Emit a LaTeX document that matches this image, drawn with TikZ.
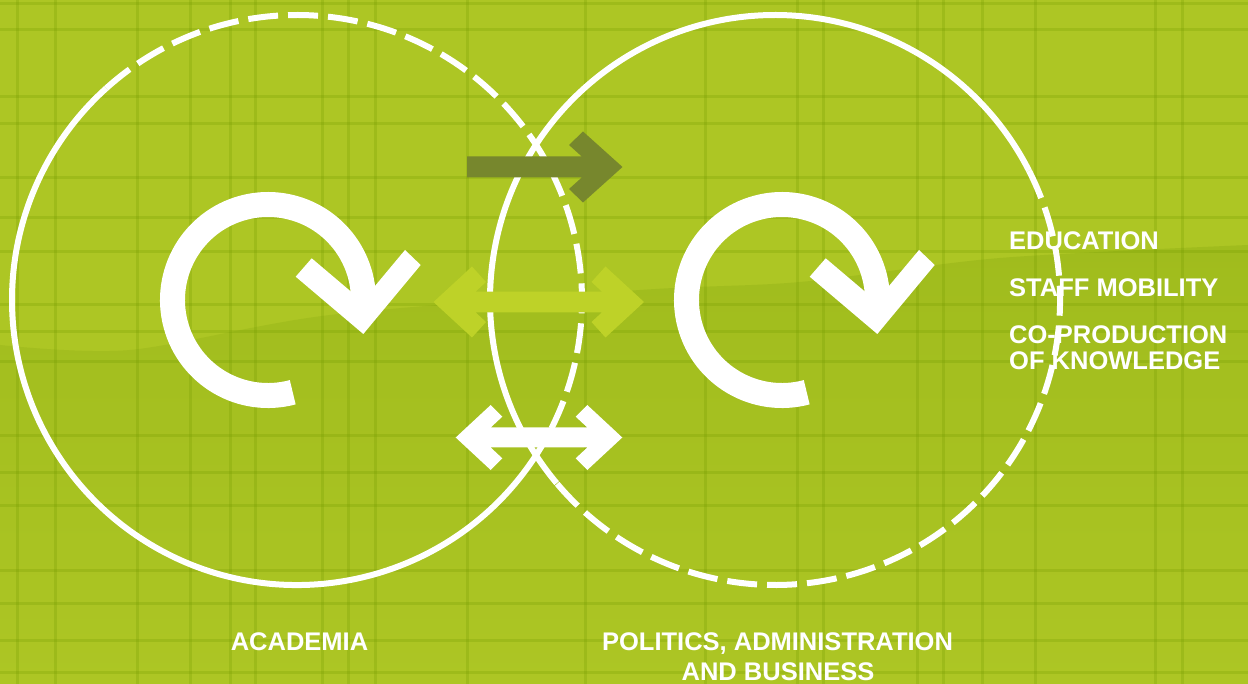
\documentclass[tikz,border=0pt]{standalone}
\usepackage{fontspec}
\setmainfont{Liberation Sans}
\definecolor{bgc}{RGB}{173,198,36}
\definecolor{lowc}{RGB}{160,188,29}
\definecolor{gridc}{RGB}{115,155,0}
\definecolor{darkarrow}{RGB}{119,135,45}
\definecolor{lightarrow}{RGB}{190,210,40}
\begin{document}
\begin{tikzpicture}[x=1pt,y=-1pt,
  gridline/.style={draw=gridc,line width=3pt,opacity=0.25},
  ring/.style={draw=white,line width=6pt},
  ringdash/.style={draw=white,line width=6pt,dash pattern=on 30pt off 10pt},
  cyc/.style={draw=white,line width=25pt},
  lbl/.style={text=white,font=\bfseries\fontsize{25.5}{26}\selectfont,inner sep=0pt}]
\useasboundingbox (0,0) rectangle (1248,684);
\fill[bgc] (0,0) rectangle (1248,684);
\shade[top color=lowc,bottom color=bgc] plot[smooth] coordinates {(0,345) (130,350) (330,315) (640,290) (800,282) (1000,258) (1248,245)} -- (1248,684) -- (0,684) -- cycle;
\foreach \x in {17,55,137,190,230,255,322,348,375,467,585,705,797,823,917,943,982,1035,1155,1182}
  \draw[gridline] (\x,0) -- (\x,684);
\foreach \y in {4,30,97,124,178,218,252,305,332,362,436,472,505,570,603,640,672}
  \draw[gridline] (0,\y) -- (1248,\y);
% circles
\coordinate (cA) at (297,300);
\coordinate (cB) at (775,300);
\draw[ring] (cA) ++(30:285) arc[start angle=30,end angle=228,radius=285];
\draw[ringdash] (cA) ++(228:285) arc[start angle=228,end angle=390.3,radius=285];
\draw[ring] (cB) ++(140:285) arc[start angle=140,end angle=333,radius=285];
\draw[ringdash] (cB) ++(333:285) arc[start angle=333,end angle=500,radius=285];
% light double arrow
\fill[lightarrow] (433.5,302) -- (472,266.5) -- (486,282) -- (475.5,291.7) -- (602,291.7) -- (591.5,282) -- (605.5,266.5) -- (644,302) -- (605.5,337.5) -- (591.5,322) -- (602,312.3) -- (475.5,312.3) -- (486,322) -- (472,337.5) -- cycle;
% white double arrow
\fill[white] (455.7,437.5) -- (490.7,405) -- (502.3,416.7) -- (490.7,427.5) -- (587.3,427.5) -- (575.7,416.7) -- (587.3,405) -- (622.3,437.5) -- (587.3,470) -- (575.7,458.3) -- (587.3,447.5) -- (490.7,447.5) -- (502.3,458.3) -- (490.7,470) -- cycle;
% dark arrow
\fill[darkarrow] (467,156.5) -- (581.8,156.5) -- (569,145) -- (583,131.5) -- (622.5,167) -- (583,202.5) -- (569,189) -- (581.8,177.5) -- (467,177.5) -- cycle;
% cycle icons
\coordinate (iA) at (268,300);
\coordinate (iB) at (782,300);
\draw[cyc] (iA) ++(75:95.5) arc[start angle=75,end angle=364,radius=95.5];
\fill[white] (311.7,258.3) -- (295.7,276.7) -- (363.3,334) -- (420.7,265) -- (405,250) -- (362.3,301.2) -- cycle;
\draw[cyc] (iB) ++(75:95.5) arc[start angle=75,end angle=364,radius=95.5];
\fill[white] (825.7,258.3) -- (809.7,276.7) -- (877.3,334) -- (934.7,265) -- (919,250) -- (876.3,301.2) -- cycle;
% texts
\node[lbl,anchor=base west] (edu) at (1009,250) {EDUCATION};
\node[lbl,anchor=base west] (staff) at (1009,297) {STAFF MOBILITY};
\node[lbl,anchor=base west] (coprod) at (1009,344) {CO-PRODUCTION};
\node[lbl,anchor=base west] (know) at (1009,370) {OF KNOWLEDGE};
\node[lbl,anchor=base] (acad) at (299.5,650) {ACADEMIA};
\node[lbl,anchor=base] (pol) at (777.5,650) {POLITICS, ADMINISTRATION};
\node[lbl,anchor=base] (bus) at (778,680) {AND BUSINESS};
\end{tikzpicture}
\end{document}
